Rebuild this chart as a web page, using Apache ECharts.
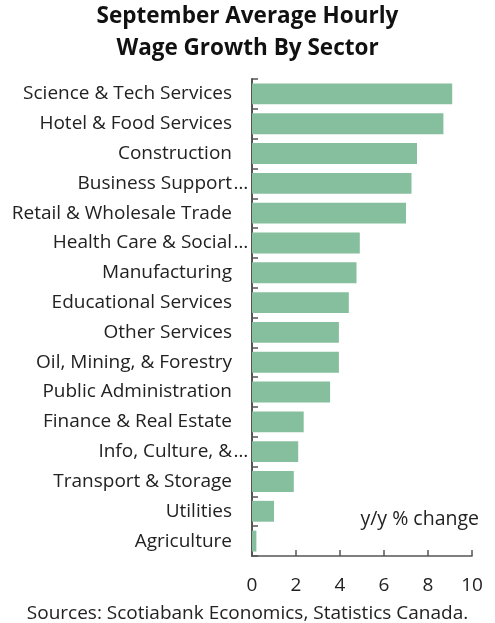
<!DOCTYPE html>
<html>
<head>
<meta charset="utf-8">
<script src="https://cdn.jsdelivr.net/npm/echarts@6/dist/echarts.min.js"></script>
<style>
  html, body { margin: 0; padding: 0; background: #ffffff; }
  #chart { width: 495px; height: 623px; }
</style>
</head>
<body>
<div id="chart"></div>
<script>
// Sector names, top to bottom
const sectors = [
  'Science & Tech Services',
  'Hotel & Food Services',
  'Construction',
  'Business Support',
  'Retail & Wholesale Trade',
  'Health Care & Social',
  'Manufacturing',
  'Educational Services',
  'Other Services',
  'Oil, Mining, & Forestry',
  'Public Administration',
  'Finance & Real Estate',
  'Info, Culture, &',
  'Transport & Storage',
  'Utilities',
  'Agriculture'
];
// Sectors whose names are shortened with an ellipsis
const truncated = ['Business Support', 'Health Care & Social', 'Info, Culture, &'];
// Year-over-year wage growth, %
const growth = [9.1, 8.7, 7.5, 7.25, 7.0, 4.9, 4.75, 4.4, 3.95, 3.95, 3.55, 2.35, 2.1, 1.9, 1.0, 0.2];
const xTicks = [0, 2, 4, 6, 8, 10];

const FONT = '"Open Sans", sans-serif';
const chart = echarts.init(document.getElementById('chart'), null, { renderer: 'canvas' });

chart.setOption({
  animation: false,
  backgroundColor: '#ffffff',
  title: [
    {
      text: 'September Average Hourly\nWage Growth By Sector',
      left: 'center',
      top: 1,
      padding: 0,
      textStyle: { fontFamily: FONT, fontSize: 22.5, fontWeight: 'bold', color: '#111111', lineHeight: 32 }
    },
    {
      text: 'Sources: Scotiabank Economics, Statistics Canada.',
      left: 'center',
      top: 604,
      padding: 0,
      textStyle: { fontFamily: FONT, fontSize: 19, fontWeight: 'normal', color: '#222222', lineHeight: 20 }
    },
    {
      text: 'y/y % change',
      right: 16,
      top: 509,
      padding: 0,
      textStyle: { fontFamily: FONT, fontSize: 19.5, fontWeight: 'normal', color: '#222222', lineHeight: 20 }
    }
  ],
  grid: { left: 252, right: 23, top: 79, bottom: 67, containLabel: false },
  xAxis: {
    type: 'value',
    min: 0,
    max: 10,
    interval: 2,
    axisLine: { show: true, lineStyle: { color: '#555555', width: 1.5 } },
    axisTick: { show: true, inside: true, length: 6, lineStyle: { color: '#555555', width: 1.5 } },
    splitLine: { show: false },
    axisLabel: {
      margin: 20,
      fontFamily: FONT, fontSize: 19, color: '#222222',
      formatter: v => (xTicks.indexOf(v) >= 0 ? String(v) : '')
    }
  },
  yAxis: {
    type: 'category',
    inverse: true,
    data: sectors,
    axisLine: { show: true, lineStyle: { color: '#555555', width: 2 } },
    axisTick: { show: true, inside: true, length: 6, lineStyle: { color: '#555555', width: 1.5 } },
    axisLabel: {
      margin: 2,
      fontFamily: FONT, fontSize: 19, color: '#222222',
      formatter: v => truncated.indexOf(v) >= 0 ? v + '{e|…}' : v + '{p|}',
      rich: {
        e: { width: 18, fontFamily: FONT, fontSize: 19, color: '#222222', align: 'left' },
        p: { width: 18 }
      }
    }
  },
  series: [{
    type: 'bar',
    data: growth,
    barCategoryGap: '30%',
    itemStyle: { color: '#86bf9e' }
  }]
});
</script>
</body>
</html>
